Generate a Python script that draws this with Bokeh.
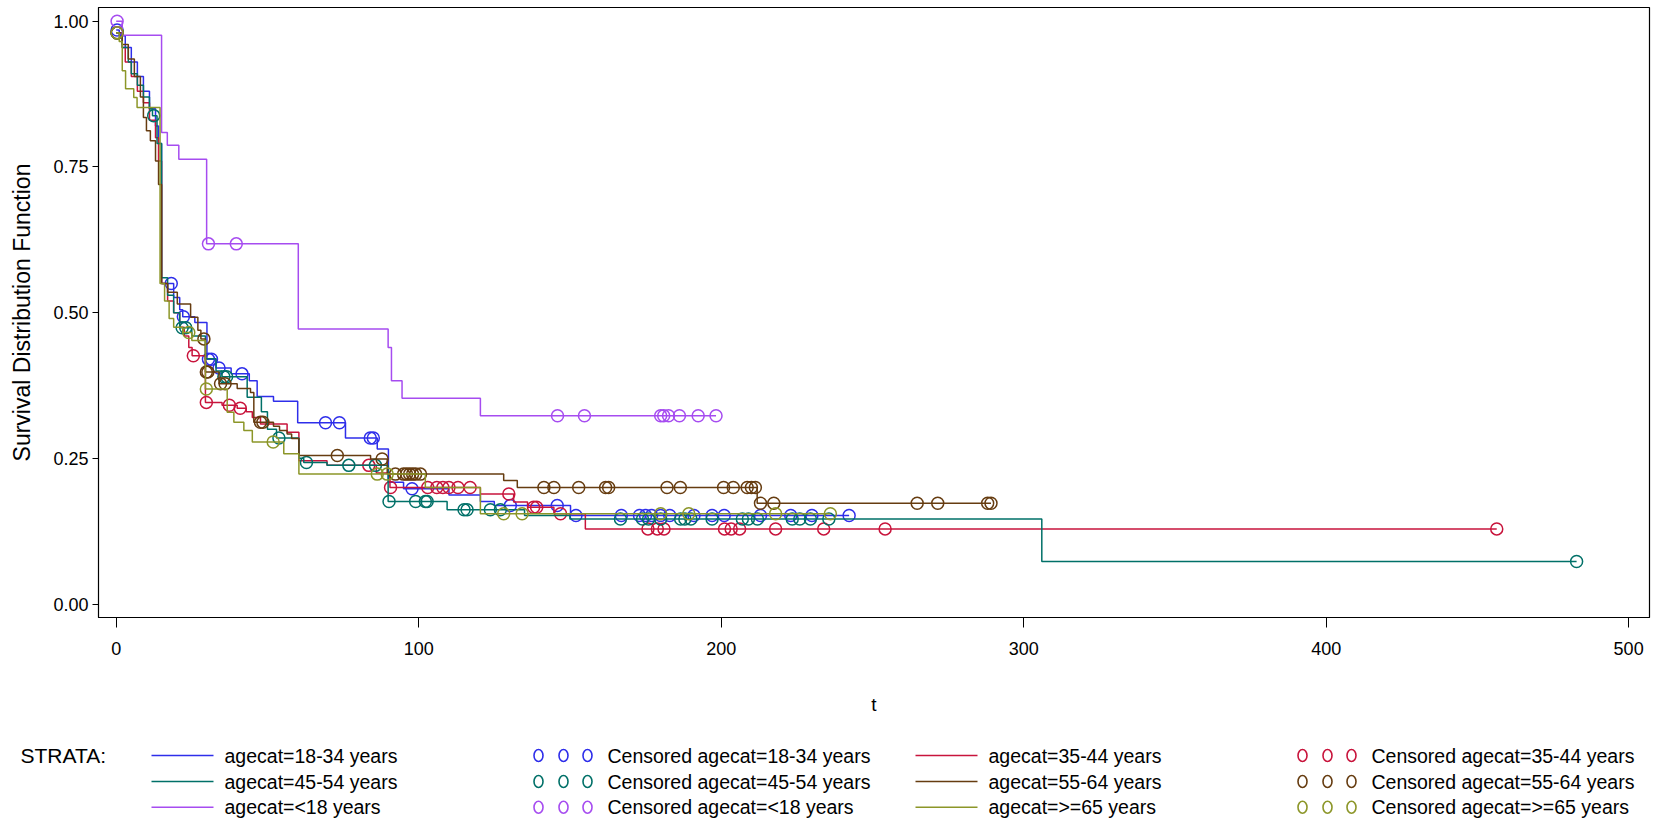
import numpy as np
from bokeh.plotting import figure
from bokeh.layouts import column
from bokeh.models import Range1d, FixedTicker, NumeralTickFormatter
from bokeh.core.properties import value
from bokeh.embed import file_html
from bokeh.resources import INLINE

FONT = "Liberation Sans"

# ---------------- data ----------------
strata = ["agecat=18-34 years", "agecat=35-44 years", "agecat=45-54 years",
          "agecat=55-64 years", "agecat=<18 years", "agecat=>=65 years"]
colors = ["#2e2eea", "#c8143c", "#007068", "#663c10", "#a64cf0", "#8c9628"]

# event times and survival after each step
t_18_34 = [0, 1, 3, 5, 7, 9, 11, 13, 14, 15, 19, 21, 22, 26, 30, 33, 38, 44, 46.6, 52, 60,
           75.8, 86.3, 90, 95, 110, 120.4, 125, 150.2]
s_18_34 = [0.985, 0.975, 0.955, 0.93, 0.905, 0.88, 0.85, 0.82, 0.79, 0.55, 0.526, 0.505, 0.493,
           0.483, 0.42, 0.405, 0.395, 0.383, 0.356, 0.348, 0.311, 0.285, 0.266, 0.209, 0.198,
           0.187, 0.176, 0.169, 0.152]
c_18_34 = [0.3, 18.2, 22.2, 30.5, 31.5, 34, 41.6, 69.2, 73.8, 84, 85, 97.8, 130.3, 145.8, 152,
           167, 173, 175, 177, 180, 183, 191, 197, 201, 213, 223, 230, 242.3]

t_35_44 = [0, 2, 3, 5, 7, 9, 11, 13, 14, 15, 17, 19, 21, 22.5, 24, 25.1, 29.5, 35, 40, 43, 45,
           47.7, 56.5, 60.4, 69.7, 86, 90.5, 120.4, 131.4, 136, 144.7, 155.1]
s_35_44 = [0.98, 0.955, 0.93, 0.905, 0.88, 0.86, 0.83, 0.80, 0.76, 0.55, 0.52, 0.50, 0.475, 0.46,
           0.44, 0.426, 0.346, 0.341, 0.336, 0.33, 0.32, 0.309, 0.295, 0.246, 0.238, 0.225, 0.2,
           0.189, 0.175, 0.166, 0.155, 0.129]
c_35_44 = [0.3, 25.5, 29.8, 37.4, 41, 83.5, 90.7, 103, 106, 108, 110, 113, 117, 129.8, 138, 139,
           146.9, 175.8, 178.9, 181.1, 201.1, 203.3, 206.1, 218, 233.9, 254.2, 456.4]

t_45_54 = [0, 2, 4, 5, 7, 9, 11, 12, 13.5, 15, 17, 19, 21, 25, 29.5, 33, 35, 43.3, 48, 50, 53,
           60.4, 62, 69.7, 89.9, 109.4, 135, 150, 306]
s_45_54 = [0.98, 0.955, 0.93, 0.91, 0.89, 0.87, 0.85, 0.838, 0.79, 0.56, 0.53, 0.50, 0.474, 0.46,
           0.421, 0.40, 0.39, 0.355, 0.33, 0.30, 0.285, 0.25, 0.243, 0.238, 0.176, 0.162, 0.152,
           0.146, 0.073]
c_45_54 = [0.3, 12.4, 21.8, 23, 35.6, 36.5, 53.8, 62.9, 76.9, 85.7, 90.2, 99, 102.2, 102.8, 115,
           116, 123.7, 127, 166.7, 174, 176, 180, 186.6, 188, 190, 197, 207, 209, 212, 223.5,
           226, 229.5, 235.6, 482.8]

t_55_64 = [0, 2, 4, 6, 8, 9, 10, 11.3, 13, 14, 15, 17, 20.2, 24.6, 27, 28, 29.5, 34, 40, 44.4,
           45.5, 52, 54, 56.5, 58, 60.4, 84.1, 89.6, 128.1, 132.6, 211.9]
s_55_64 = [0.98, 0.96, 0.935, 0.905, 0.87, 0.835, 0.812, 0.795, 0.76, 0.72, 0.55, 0.535, 0.515,
           0.492, 0.47, 0.455, 0.398, 0.378, 0.37, 0.363, 0.312, 0.305, 0.298, 0.292, 0.284,
           0.255, 0.249, 0.223, 0.212, 0.2, 0.173]
c_55_64 = [0.3, 29, 29.8, 30.3, 34.5, 36, 47.7, 48.5, 73.1, 87.9, 92.3, 95, 96, 97, 98, 99,
           100.6, 141.4, 144.7, 152.9, 161.8, 162.8, 182.1, 186.5, 200.8, 204, 208.6, 210,
           211.3, 213, 217.4, 264.8, 271.6, 288.1, 289.2]

t_lt18 = [0, 2, 15, 16.9, 20.7, 29.9, 60.2, 89.9, 91, 94.5, 120.4]
s_lt18 = [1.0, 0.976, 0.809, 0.787, 0.763, 0.618, 0.472, 0.44, 0.383, 0.353, 0.323]
c_lt18 = [0.3, 30.5, 39.7, 145.9, 154.8, 180, 181, 182.6, 186.2, 192.4, 198.3]

t_ge65 = [0, 1, 2, 3.1, 5.8, 6.9, 14.5, 16, 17.5, 19, 22, 25, 29.5, 36.7, 38.9, 42.2, 45, 55.4,
          60.4, 102.2, 120.4]
s_ge65 = [0.98, 0.965, 0.915, 0.884, 0.869, 0.852, 0.55, 0.52, 0.49, 0.475, 0.466, 0.452, 0.369,
          0.329, 0.312, 0.298, 0.278, 0.258, 0.223, 0.2, 0.155]
c_ge65 = [0.3, 24, 29.8, 51.9, 86.3, 89.6, 128.1, 134.2, 180, 189.3, 218, 236.1]

series = [(t_18_34, s_18_34, c_18_34), (t_35_44, s_35_44, c_35_44),
          (t_45_54, s_45_54, c_45_54), (t_55_64, s_55_64, c_55_64),
          (t_lt18, s_lt18, c_lt18), (t_ge65, s_ge65, c_ge65)]

x_ticks = [0, 100, 200, 300, 400, 500]
y_ticks = [0.0, 0.25, 0.5, 0.75, 1.0]

# ---------------- main plot ----------------
p = figure(width=1670, height=720, output_backend="svg", toolbar_location=None,
           x_range=Range1d(-5.85, 506.9), y_range=Range1d(-0.023, 1.0235),
           min_border_left=98, min_border_right=21, min_border_top=7, min_border_bottom=103)
p.frame_align = False
p.outline_line_color = "black"
p.outline_line_width = 1.2
p.xgrid.visible = False
p.ygrid.visible = False

for ax in (p.xaxis[0], p.yaxis[0]):
    ax.axis_line_color = "black"
    ax.major_tick_line_color = "black"
    ax.minor_tick_line_color = None
    ax.major_tick_in = 0
    ax.major_label_text_font = FONT
    ax.major_label_text_font_size = "18px"
    ax.major_label_text_color = "black"
    ax.axis_label_text_font = FONT
    ax.axis_label_text_font_style = "normal"
    ax.axis_label_text_color = "black"

p.xaxis.axis_label_text_font_size = "19px"
p.yaxis.axis_label_text_font_size = "23px"
p.xaxis.ticker = FixedTicker(ticks=x_ticks)
p.yaxis.ticker = FixedTicker(ticks=y_ticks)
p.yaxis.formatter = NumeralTickFormatter(format="0.00")
p.xaxis.major_tick_out = 10
p.yaxis.major_tick_out = 6
p.xaxis.major_label_standoff = 14
p.yaxis.major_label_standoff = 4
p.xaxis.axis_label = "t"
p.yaxis.axis_label = "Survival Distribution Function"
p.xaxis.axis_label_standoff = 36
p.yaxis.axis_label_standoff = 15

for (tt, ss, cc), col in zip(series, colors):
    tt = np.asarray(tt, float)
    ss = np.asarray(ss, float)
    cc = np.asarray(cc, float)
    tend = max(tt.max(), cc.max())
    xs = np.append(tt, tend)
    ys = np.append(ss, ss[-1])
    p.step(xs, ys, mode="after", line_color=col, line_width=1.5)
    idx = np.searchsorted(tt, cc, side="right") - 1
    cy = ss[idx]
    p.scatter(cc, cy, marker="circle", size=12, fill_color=None, line_color=col, line_width=1.5)

# ---------------- legend ----------------
lg = figure(width=1670, height=104, output_backend="svg", toolbar_location=None,
            x_range=Range1d(0, 1670), y_range=Range1d(104, 0),
            min_border=0, min_border_left=0, min_border_right=0,
            min_border_top=0, min_border_bottom=0)
lg.frame_align = False
lg.axis.visible = False
lg.xgrid.visible = False
lg.ygrid.visible = False
lg.outline_line_color = None

row_y = [35, 61, 86.7]
col_dx = [0, 764]
line_x0, line_x1, text_x = 151, 213, 224
mark_x = [538, 563, 587]
ctext_x = 607

lg.text(x=[20], y=[row_y[0]], text=["STRATA:"], text_font=value(FONT), text_font_size="21px",
        text_baseline="middle", text_align="left", text_color="black")

for i, (name, col) in enumerate(zip(strata, colors)):
    r, c = divmod(i, 2)
    y = row_y[r]
    dx = col_dx[c]
    lg.line([line_x0 + dx, line_x1 + dx], [y, y], line_color=col, line_width=1.6)
    lg.text(x=[text_x + dx], y=[y], text=[name], text_font=value(FONT), text_font_size="19.5px",
            text_baseline="middle", text_align="left", text_color="black")
    lg.ellipse(x=[mx + dx for mx in mark_x], y=[y] * 3, width=9, height=12,
               width_units="screen", height_units="screen",
               fill_color=None, line_color=col, line_width=1.6)
    lg.text(x=[ctext_x + dx], y=[y], text=["Censored " + name], text_font=value(FONT),
            text_font_size="19.5px", text_baseline="middle", text_align="left", text_color="black")

layout = column(p, lg, spacing=0)
open("out.html", "w").write(file_html(layout, INLINE))
